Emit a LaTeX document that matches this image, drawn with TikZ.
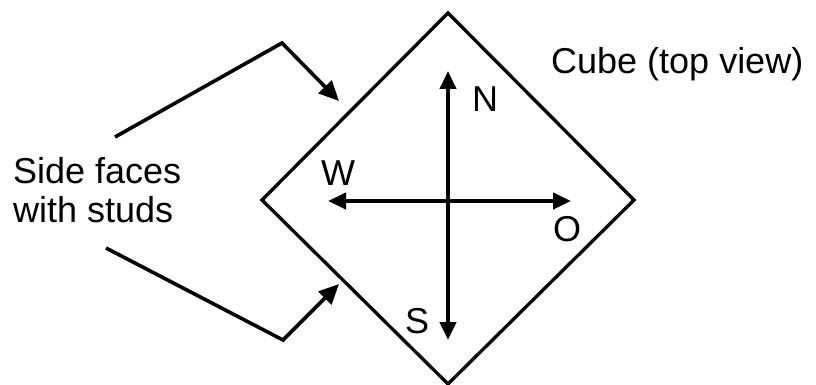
\documentclass[tikz,border=0pt]{standalone}
\usepackage{fontspec}
\setmainfont{Liberation Sans}
\usetikzlibrary{arrows.meta}
\begin{document}
\begin{tikzpicture}[x=1pt,y=-1pt,
  lbl/.style={anchor=base west,inner sep=0pt,font=\fontsize{36}{40}\selectfont},
  cubeline/.style={line width=3.3pt,line join=miter},
  axis/.style={line width=4.2pt,-{Triangle[length=18pt,width=16pt]}},
  pointer/.style={line width=3.6pt,line join=miter,-{Triangle[length=20pt,width=18pt]}}]
\useasboundingbox (0,0) rectangle (816,385);
% cube corners
\coordinate (T) at (448,13);
\coordinate (L) at (262,200);
\coordinate (R) at (634,200);
\coordinate (B) at (448,384);
\draw[cubeline] (T) -- (R) -- (B) -- (L) -- cycle;
% compass
\coordinate (Ntip) at (448,71);
\coordinate (Stip) at (448,340);
\coordinate (Wtip) at (328,201);
\coordinate (Otip) at (571,201);
\coordinate (Cs) at (448,201);
\draw[axis] (Cs) -- (Ntip);
\draw[axis] (Cs) -- (Stip);
\draw[axis] (Cs) -- (Wtip);
\draw[axis] (Cs) -- (Otip);
\node[lbl] (N) at (472,112) {N};
\node[lbl] (W) at (321,185) {W};
\node[lbl] (O) at (553,241) {O};
\node[lbl] (S) at (405,333) {S};
% labels
\node[lbl] (side1) at (13,183) {Side faces};
\node[lbl] (side2) at (13,222) {with studs};
\node[lbl] (cube) at (551,74) {Cube (top view)};
% pointers
\coordinate (p1s) at (115,137);
\coordinate (p1c) at (282,43);
\coordinate (p1t) at (339,101);
\coordinate (p2s) at (106,248);
\coordinate (p2c) at (283,340);
\coordinate (p2t) at (339,284);
\draw[pointer] (p1s) -- (p1c) -- (p1t);
\draw[pointer] (p2s) -- (p2c) -- (p2t);
\end{tikzpicture}
\end{document}
